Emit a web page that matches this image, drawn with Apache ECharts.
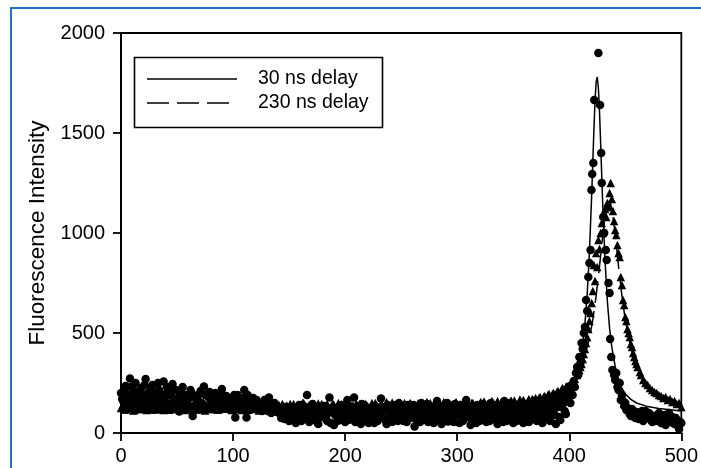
<!DOCTYPE html>
<html>
<head>
<meta charset="utf-8">
<script src="https://cdn.jsdelivr.net/npm/echarts@6/dist/echarts.min.js"></script>
<style>
html,body{margin:0;padding:0;background:#fff;}
#chart{width:701px;height:468px;}
</style>
</head>
<body>
<div id="chart"></div>
<script>
// ---- data ----
var xTicks = [0, 100, 200, 300, 400, 500];
var yTicks = [0, 500, 1000, 1500, 2000];
var seriesNames = ['30 ns delay', '230 ns delay'];

// measured points, 30 ns delay (circles)
var points30 = [
[0,200],[2,160],[4,235],[6,180],[8,272],[10,150],[12,210],[14,190],[16,140],[18,225],[20,175],[22,270],[24,200],[26,155],[28,240],[30,185],[32,135],[34,215],[36,165],[38,258],[40,195],[42,145],[44,220],[46,245],[48,170],[50,150],[52,107],[54,200],[56,160],[58,180],[60,140],
[62,215],[64,85],[66,175],[68,140],[70,195],[72,150],[74,232],[76,130],[78,180],[80,160],[82,125],[84,200],[86,145],[88,170],[90,220],[92,135],[94,185],[96,150],[98,120],[100,165],[102,77],[104,190],[106,140],[108,155],[110,215],[112,77],[114,160],[116,130],[118,175],[120,120],[122,150],[124,140],[126,110],[128,165],[130,125],[132,178],[134,100],[136,140],[138,115],[140,130],
[142,95],[144,120],[146,70],[148,105],[150,60],[152,130],[154,85],[156,50],[158,110],[160,75],[162,140],[164,90],[166,190],[168,55],[170,100],[172,70],[174,125],[176,45],[178,95],[180,80],[182,115],[184,60],[186,178],[188,105],[190,40],[192,85],[194,130],[196,65],[198,100],[200,55],
[202,165],[204,90],[206,120],[208,178],[210,70],[212,110],[214,45],[216,95],[218,135],[220,60],[222,85],[224,125],[226,50],[228,100],[230,75],[232,173],[234,110],[236,65],[238,140],[240,90],[242,55],[244,120],[246,80],[248,150],[250,95],[252,60],[254,115],[256,140],[258,75],[260,100],
[262,32],[264,125],[266,85],[268,150],[270,70],[272,110],[274,55],[276,135],[278,95],[280,60],[282,160],[284,100],[286,45],[288,120],[290,85],[292,57],[294,130],[296,75],[298,145],[300,90],
[302,50],[304,115],[306,70],[308,165],[310,95],[312,40],[314,120],[316,80],[318,140],[320,60],[322,105],[324,130],[326,55],[328,95],[330,150],[332,70],[334,110],[336,45],[338,125],[340,85],
[342,160],[344,60],[346,100],[348,135],[350,50],[352,90],[354,120],[356,65],[358,145],[360,80],[362,105],[364,55],[366,130],[368,90],[370,160],[372,70],[374,115],[376,50],[378,140],[380,95],
[382,65],[384,150],[386,100],[388,45],[390,130],[392,65],[394,170],[396,110],[398,180],
[400,210],[401,150],[402,240],[403,190],[404,260],[405,230],[406,300],[407,330],[408,290],[409,380],[410,350],[411,450],[412,420],[413,500],[414,530],[415,665],[416,610],[417,780],[418,850],[419,915],
[419.8,1215],[420.5,1295],[421.5,1350],[422.3,1665],[426,1900],[427.5,1640],[428.5,1400],[429,1250],[430.3,1080],[431.2,1000],[432.6,915],[433.4,865],[435,750],[436,700],
[436.5,470],[437.5,380],[438.5,315],[440,290],[441,265],[442,300],[443,230],[444,215],[445,250],[446,165],[447,190],[448,160],[449,135],[450,150],[451,115],[452,125],
[454,95],[456,120],[458,80],[460,105],[462,70],[464,90],[466,60],[468,110],[470,75],[472,95],[474,55],[476,85],[478,65],[480,100],[482,50],[484,75],[486,40],[488,90],[490,60],[492,80],[494,45],[496,65],[498,20],[500,50]
];
var points30b = [
[1,170],[3,215],[5,145],[7,190],[9,230],[11,160],[13,250],[15,175],[17,205],[19,150],[21,240],[23,185],[25,130],[27,220],[29,160],[31,200],[33,250],[35,145],[37,190],[39,170],[41,230],[43,135],[45,185],[47,155],[49,215],[51,175],[53,140],[55,230],[57,190],[59,150],
[61,175],[63,200],[65,135],[67,185],[69,160],[71,210],[73,145],[75,190],[77,125],[79,205],[81,150],[83,175],[85,135],[87,195],[89,160],[91,140],[93,185],[95,120],[97,170],[99,145],[101,190],[103,130],[105,160],[107,120],[109,175],[111,140],[113,190],[115,115],[117,150],[119,135],[121,165],[123,120],[125,145],[127,130],[129,155],[131,110],[133,140],[135,125],[137,150],[139,105],
[141,110],[143,75],[145,95],[147,130],[149,85],[151,105],[153,65],[155,120],[157,90],[159,140],[161,60],[163,105],[165,80],[167,125],[169,70],[171,145],[173,95],[175,55],[177,115],[179,85],
[181,135],[183,70],[185,100],[187,50],[189,120],[191,90],[193,60],[195,110],[197,140],[199,80],[201,100],[203,65],[205,130],[207,85],[209,55],[211,120],[213,95],[215,145],[217,70],[219,105],
[221,50],[223,115],[225,90],[227,135],[229,60],[231,100],[233,80],[235,125],[237,45],[239,110],[241,95],[243,70],[245,140],[247,60],[249,105],[251,130],[253,80],[255,55],[257,115],[259,90],
[261,140],[263,70],[265,100],[267,55],[269,125],[271,90],[273,145],[275,75],[277,110],[279,50],[281,120],[283,85],[285,135],[287,65],[289,100],[291,150],[293,80],[295,110],[297,55],[299,125],
[301,95],[303,140],[305,60],[307,105],[309,80],[311,130],[313,70],[315,100],[317,50],[319,115],[321,90],[323,145],[325,75],[327,110],[329,60],[331,125],[333,95],[335,140],[337,70],[339,100],
[341,55],[343,120],[345,85],[347,150],[349,75],[351,110],[353,60],[355,130],[357,95],[359,50],[361,120],[363,85],[365,140],[367,70],[369,105],[371,60],[373,130],[375,90],[377,155],[379,75],
[381,120],[383,60],[385,140],[387,90],[389,165],[391,80],[393,130],[395,150],[397,95],[399,175],
[453,110],[455,85],[457,100],[459,75],[461,95],[463,80],[465,110],[467,70],[469,90],[471,100],[473,65],[475,80],[477,60],[479,85],[481,70],[483,50],[485,90],[487,65],[489,100],[491,55],[493,50],[495,75],[497,35],[499,55]
];

// measured points, 230 ns delay (triangles)
var points230 = [
[1,130],[3,118],[5,142],[7,125],[9,135],[11,112],[13,148],[15,128],[17,120],[19,140],[21,132],[23,115],[25,145],[27,125],[29,138],[31,118],[33,150],[35,130],[37,122],[39,142],
[41,128],[43,116],[45,135],[47,125],[49,148],[51,120],[53,132],[55,140],[57,115],[59,128],[61,137],[63,122],[65,145],[67,118],[69,130],[71,140],[73,125],[75,112],[77,138],[79,128],
[81,146],[83,120],[85,133],[87,118],[89,140],[91,126],[93,150],[95,122],[97,135],[99,115],[101,130],[103,142],[105,120],[107,136],[109,125],[111,148],[113,118],[115,132],[117,140],[119,122],
[121,130],[123,112],[125,145],[127,128],[129,120],[131,138],[133,125],[135,150],[137,118],[139,132],[141,140],[143,122],[145,135],[147,115],[149,128],[151,145],[153,120],[155,132],[157,110],[159,140],
[161,125],[163,150],[165,118],[167,130],[169,142],[171,120],[173,135],[175,112],[177,128],[179,145],[181,122],[183,138],[185,115],[187,130],[189,148],[191,120],[193,135],[195,125],[197,142],[199,118],
[201,130],[203,150],[205,122],[207,138],[209,115],[211,132],[213,145],[215,120],[217,128],[219,140],[221,112],[223,135],[225,125],[227,150],[229,118],[231,132],[233,140],[235,122],[237,155],[239,128],
[241,115],[243,138],[245,125],[247,145],[249,120],[251,135],[253,150],[255,118],[257,130],[259,142],[261,125],[263,112],[265,148],[267,130],[269,138],[271,120],[273,155],[275,128],[277,115],[279,140],
[281,132],[283,150],[285,122],[287,135],[289,118],[291,145],[293,128],[295,140],[297,120],[299,155],[301,132],[303,118],[305,145],[307,128],[309,138],[311,115],[313,150],[315,125],[317,140],[319,130],
[321,155],[323,120],[325,138],[327,145],[329,125],[331,160],[333,132],[335,140],[337,122],[339,150],[341,135],[343,158],[345,128],[347,145],[349,138],[351,162],[353,130],[355,150],[357,142],[359,165],
[361,140],[363,158],[365,150],[367,170],[369,145],[371,165],[373,175],[375,160],[377,180],[379,170],[381,190],[383,175],[385,195],[387,185],[389,205],[391,195],[393,215],[395,210],[397,230],[399,220],
[401,240],[403,255],[405,270],[407,290],[409,315],[410,330],[411,345],[412,370],[413,395],[414,420],[415,450],[416,480],[417,520],[418,560],[419,600],[420,650],[421,710],[422,840],[423,760],[424,900],
[425,830],[426,965],[427,920],[428,1000],[429,1050],[430,1000],[431,1090],[432,1120],[433,1080],[434,1150],[435,1130],[436,1200],[437,1250],[438,1170],[439,1110],[440,1060],[441,1015],[442,990],[443,940],[444,900],
[445,880],[446,780],[447,740],[448,665],[449,640],[450,580],[451,560],[452,520],[453,500],[454,480],[455,445],[456,430],[457,400],[458,380],[459,360],[460,345],[461,330],[463,305],[464,290],[466,265],
[468,250],[470,240],[472,225],[474,215],[476,205],[478,200],[480,190],[482,185],[484,175],[486,180],[488,165],[490,170],[492,155],[494,160],[496,145],[498,150],[500,130]
];
var points230b = [
[0,125],[2,140],[4,118],[6,132],[8,150],[10,128],[12,115],[14,138],[16,125],[18,145],[20,120],[22,135],[24,128],[26,148],[28,118],[30,132],[32,140],[34,122],[36,135],[38,115],
[40,142],[42,130],[44,120],[46,138],[48,126],[50,145],[52,118],[54,130],[56,135],[58,122],[60,148],[62,128],[64,115],[66,140],[68,125],[70,132],[72,118],[74,145],[76,130],[78,120],
[80,136],[82,125],[84,148],[86,118],[88,130],[90,140],[92,122],[94,135],[96,128],[98,145],[100,118],[102,132],[104,125],[106,142],[108,115],[110,135],[112,128],[114,150],[116,120],[118,133],
[120,126],[122,142],[124,118],[126,135],[128,130],[130,148],[132,115],[134,128],[136,140],[138,122],[140,135],[142,118],[144,145],[146,125],[148,138],[150,112],[152,130],[154,145],[156,120],[158,135],
[160,128],[162,150],[164,115],[166,132],[168,140],[170,118],[172,135],[174,125],[176,148],[178,120],[180,138],[182,128],[184,145],[186,115],[188,132],[190,140],[192,122],[194,150],[196,128],[198,135],
[200,118],[202,142],[204,125],[206,138],[208,115],[210,148],[212,128],[214,135],[216,120],[218,145],[220,130],[222,118],[224,150],[226,125],[228,138],[230,122],[232,145],[234,130],[236,118],[238,140],
[240,128],[242,152],[244,120],[246,135],[248,126],[250,145],[252,118],[254,138],[256,130],[258,150],[260,122],[262,135],[264,128],[266,145],[268,115],[270,140],[272,132],[274,120],[276,150],[278,128],
[280,138],[282,118],[284,145],[286,130],[288,155],[290,125],[292,140],[294,118],[296,135],[298,148],[300,128],[302,142],[304,122],[306,155],[308,130],[310,140],[312,125],[314,150],[316,135],[318,120],
[320,145],[322,132],[324,158],[326,128],[328,140],[330,135],[332,150],[334,125],[336,160],[338,138],[340,145],[342,130],[344,155],[346,140],[348,162],[350,135],[352,150],[354,145],[356,168],[358,140],
[360,155],[362,148],[364,170],[366,155],[368,162],[370,175],[372,158],[374,180],[376,168],[378,185],[380,175],[382,195],[384,182],[386,200],[388,190],[390,210],[392,200],[394,225],[396,215],[398,235]
];

// fitted curves
var fit30 = [[0,105],[100,105],[200,105],[300,107],[350,113],[370,123],[380,135],[390,157],[395,176],[400,208],[404,249],[408,319],[411,405],[414,547],[416,693],[418,902],[420,1187],[421,1352],[422,1517],[423,1660],[424,1755],[425,1780],[426,1725],[427,1607],[428,1452],[429,1285],[430,1124],[432,854],[434,660],[436,523],[438,428],[441,333],[445,245],[450,195],[455,168],[460,150],[470,132],[480,122],[490,116],[500,110]];
var fit230 = [[0,126],[100,126],[200,128],[250,130],[300,134],[330,139],[350,147],[370,161],[380,175],[390,198],[395,215],[400,239],[405,274],[410,326],[414,386],[418,475],[421,566],[424,686],[427,833],[430,992],[432,1085],[434,1145],[435.5,1160],[437,1145],[439,1085],[441,992],[444,833],[447,686],[450,566],[453,475],[457,386],[461,326],[466,274],[471,239],[476,215],[481,192],[488,175],[495,160],[500,152]];

// ---- chart ----
var FONT = '"Liberation Sans", Arial, sans-serif';
var chart = echarts.init(document.getElementById('chart'), null, {renderer: 'canvas'});
chart.setOption({
  animation: false,
  backgroundColor: '#fff',
  graphic: [
    {type: 'rect', z: 100, silent: true,
     shape: {x: 11, y: 8, width: 900, height: 700},
     style: {fill: 'none', stroke: '#1c74c4', lineWidth: 2}},
    // legend box
    {type: 'rect', z: 50, silent: true,
     shape: {x: 134.5, y: 57.5, width: 248, height: 70},
     style: {fill: '#fff', stroke: '#000', lineWidth: 1.6}},
    {type: 'line', z: 51, silent: true,
     shape: {x1: 147, y1: 79, x2: 237, y2: 79},
     style: {stroke: '#000', lineWidth: 1.7}},
    {type: 'line', z: 51, silent: true,
     shape: {x1: 147, y1: 103, x2: 237, y2: 103},
     style: {stroke: '#000', lineWidth: 1.7, lineDash: [22, 8]}},
    {type: 'text', z: 51, silent: true, x: 258, y: 79,
     style: {text: seriesNames[0], fontFamily: FONT, fontSize: 19.5, fill: '#000', verticalAlign: 'middle', align: 'left'}},
    {type: 'text', z: 51, silent: true, x: 258, y: 103,
     style: {text: seriesNames[1], fontFamily: FONT, fontSize: 19.5, fill: '#000', verticalAlign: 'middle', align: 'left'}}
  ],
  grid: {left: 121, right: 12, top: 33, bottom: 35, show: true, borderColor: '#000', borderWidth: 1.8, backgroundColor: 'transparent'},
  xAxis: {
    type: 'value', min: xTicks[0], max: xTicks[xTicks.length - 1], interval: 100,
    splitLine: {show: false},
    axisLine: {onZero: false, lineStyle: {color: '#000', width: 1.8}},
    axisTick: {inside: false, length: 8, lineStyle: {color: '#000', width: 1.8}},
    axisLabel: {fontFamily: FONT, fontSize: 20, color: '#000', margin: 13,
                formatter: function (v) { return String(v); }}
  },
  yAxis: {
    type: 'value', min: yTicks[0], max: yTicks[yTicks.length - 1], interval: 500,
    name: 'Fluorescence Intensity', nameLocation: 'middle', nameGap: 70,
    nameTextStyle: {fontFamily: FONT, fontSize: 22.5, color: '#000'},
    splitLine: {show: false},
    axisLine: {onZero: false, lineStyle: {color: '#000', width: 1.8}},
    axisTick: {inside: false, length: 8, lineStyle: {color: '#000', width: 1.8}},
    axisLabel: {fontFamily: FONT, fontSize: 20, color: '#000', margin: 16,
                formatter: function (v) { return String(v); }}
  },
  series: [
    {name: '30 ns data', type: 'scatter', data: points30.concat(points30b), symbol: 'circle', symbolSize: 8.5,
     itemStyle: {color: '#000', opacity: 1}, z: 2},
    {name: '230 ns data', type: 'scatter', data: points230.concat(points230b), symbol: 'triangle', symbolSize: 8.5,
     itemStyle: {color: '#000', opacity: 1}, z: 2},
    {name: seriesNames[0], type: 'line', data: fit30, symbol: 'none', smooth: false,
     lineStyle: {color: '#000', width: 1.5, type: 'solid'}, z: 3},
    {name: seriesNames[1], type: 'line', data: fit230, symbol: 'none', smooth: false,
     lineStyle: {color: '#000', width: 1.5, type: [22, 8]}, z: 3}
  ]
});
</script>
</body>
</html>
